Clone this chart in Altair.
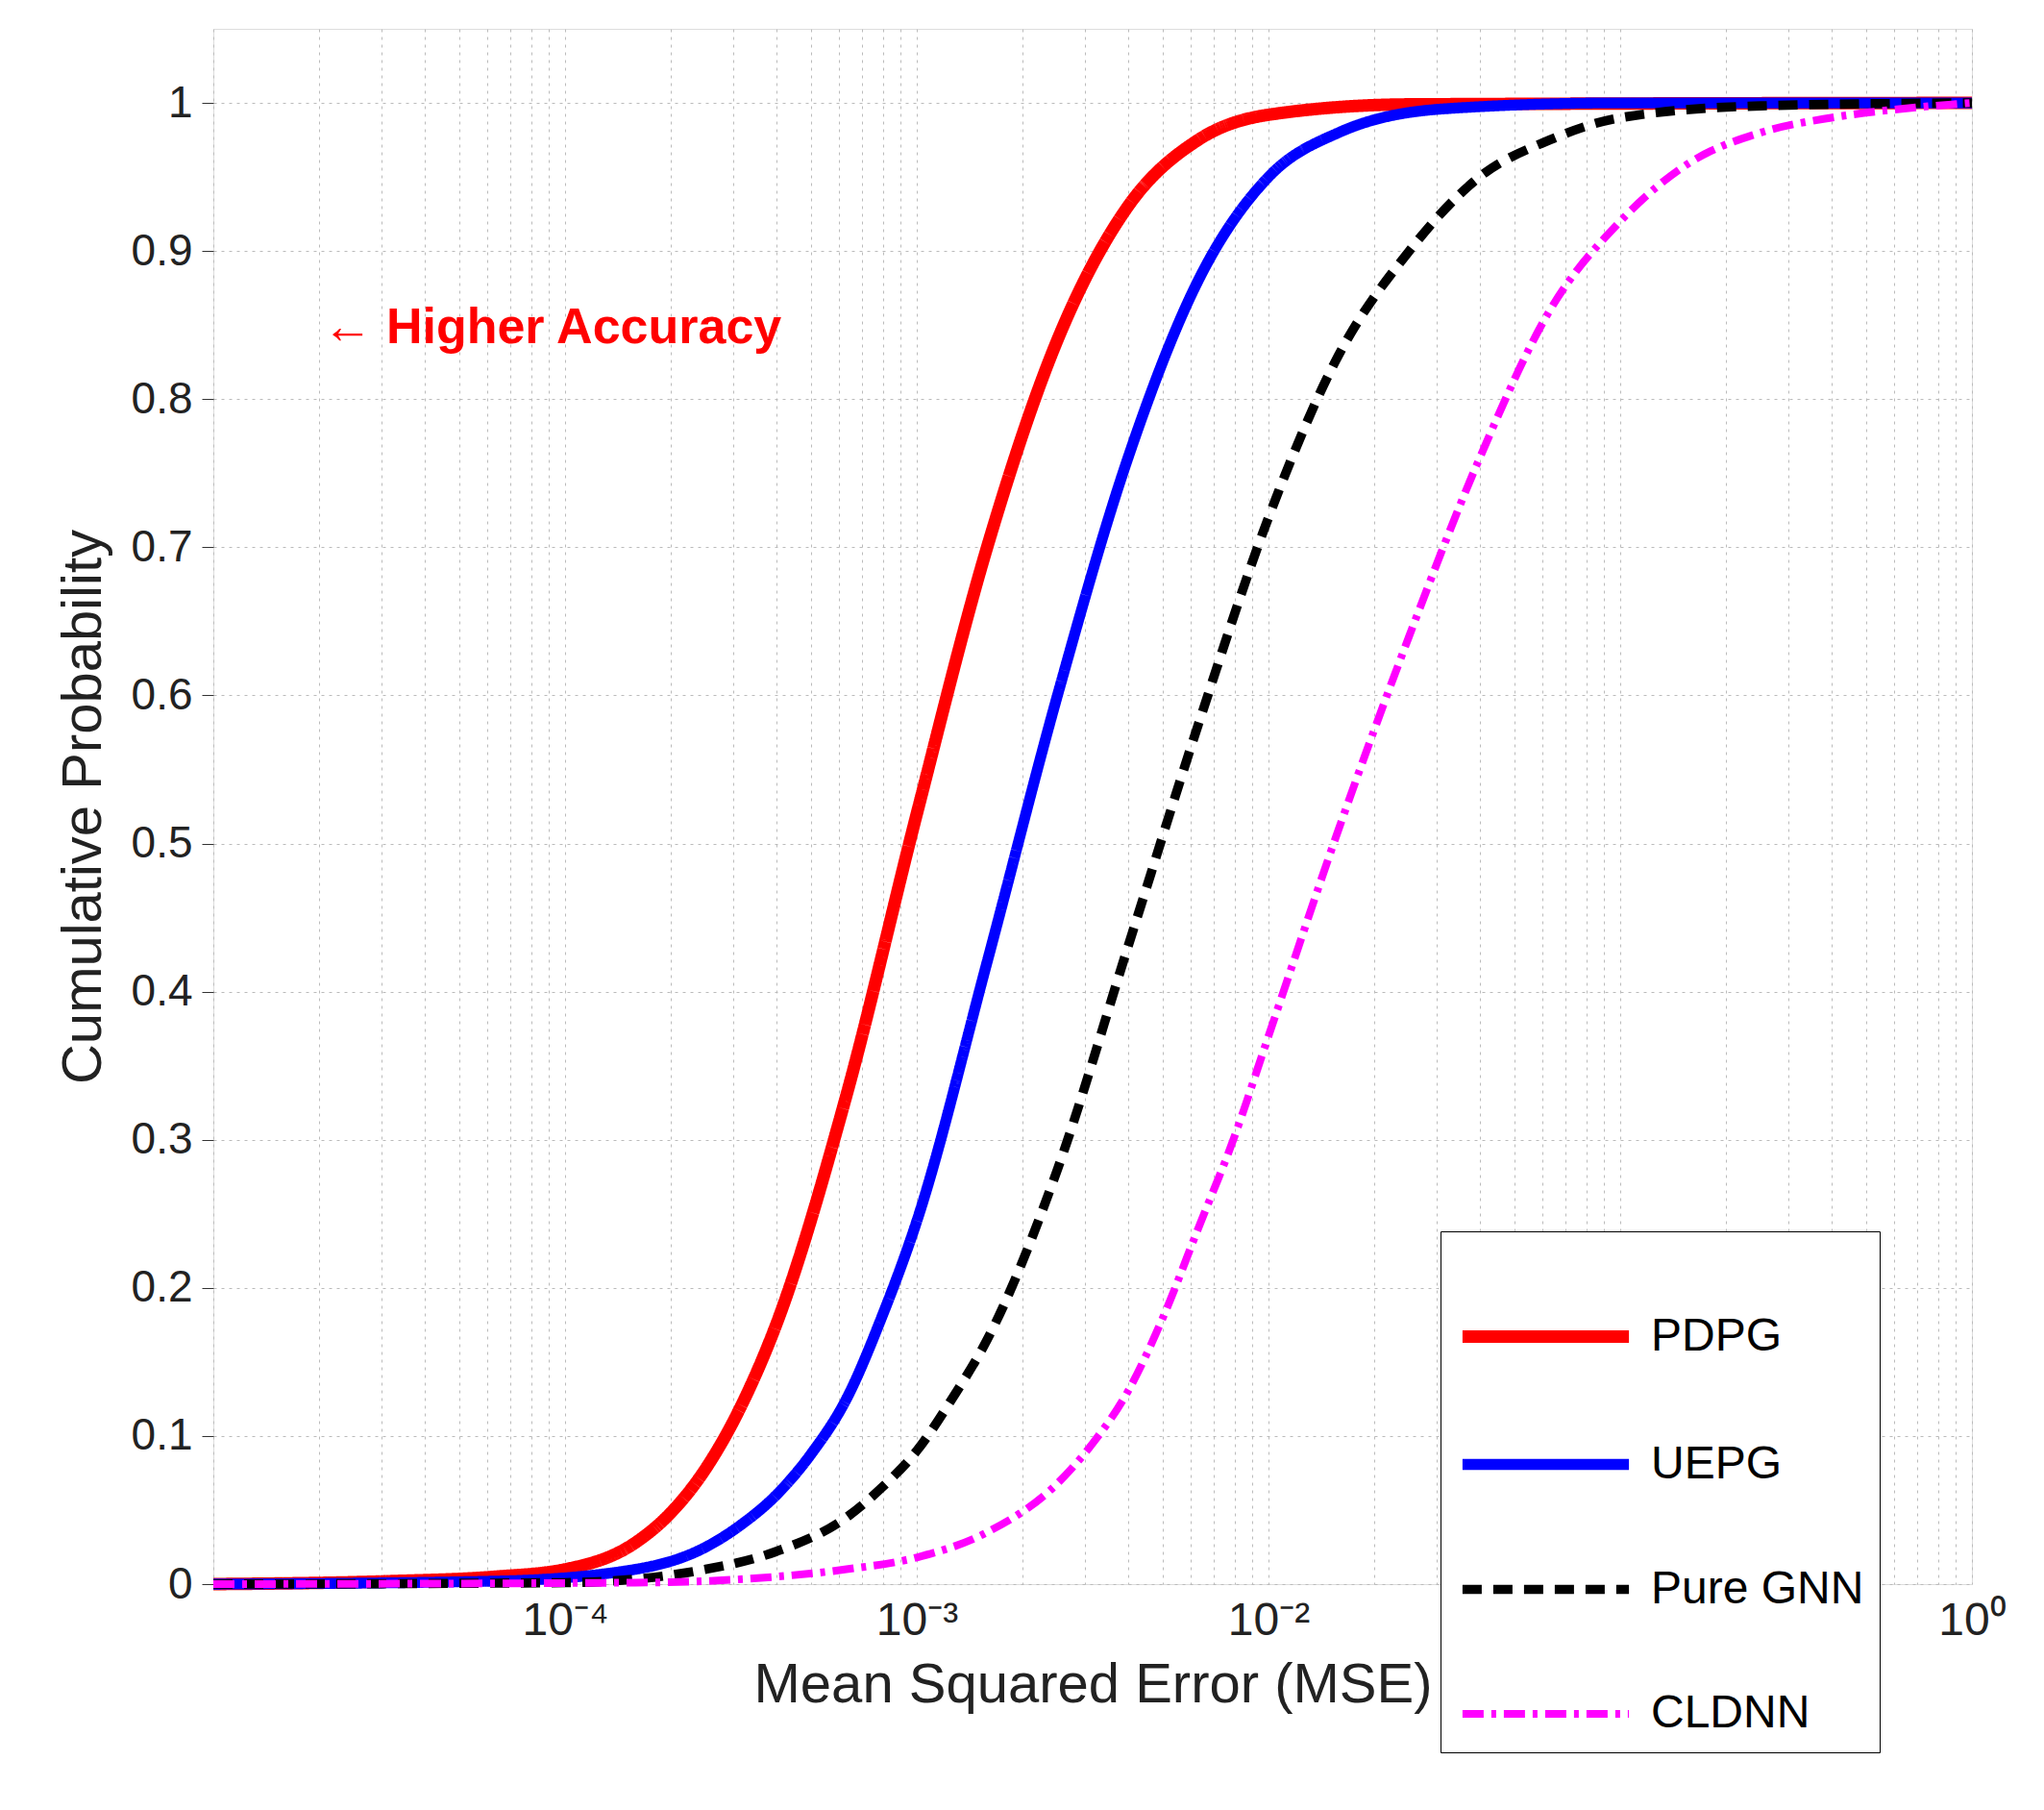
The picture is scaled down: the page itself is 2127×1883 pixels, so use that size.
import altair as alt
import pandas as pd

series = ["PDPG", "UEPG", "Pure GNN", "CLDNN"]
colors = ["#ff0000", "#0000ff", "#000000", "#ff00ff"]

pdpg_logx = [-5, -4.5, -4.2, -4, -3.8, -3.7, -3.6, -3.5, -3.4, -3.2, -3.0, -2.8, -2.6, -2.4, -2.2, -2.0, -1.6, 0]
pdpg_cdf = [0, 0.002, 0.005, 0.01, 0.028, 0.048, 0.078, 0.12, 0.175, 0.33, 0.52, 0.70, 0.84, 0.93, 0.975, 0.992, 0.999, 1]
uepg_logx = [-5, -4.2, -3.8, -3.6, -3.5, -3.4, -3.3, -3.2, -3.1, -3.0, -2.8, -2.6, -2.4, -2.2, -2.0, -1.8, -1.5, -1, 0]
uepg_cdf = [0, 0.002, 0.01, 0.025, 0.04, 0.06, 0.088, 0.125, 0.18, 0.245, 0.42, 0.60, 0.76, 0.88, 0.95, 0.98, 0.996, 1, 1]
gnn_logx = [-5, -4, -3.6, -3.4, -3.2, -3.1, -3.0, -2.9, -2.8, -2.6, -2.4, -2.2, -2.0, -1.8, -1.6, -1.4, -1.2, -1, -0.6, 0]
gnn_cdf = [0, 0.001, 0.01, 0.022, 0.045, 0.065, 0.09, 0.125, 0.165, 0.28, 0.43, 0.58, 0.72, 0.83, 0.90, 0.95, 0.975, 0.99, 0.998, 1]
cldnn_logx = [-5, -3.8, -3.4, -3.2, -3.0, -2.8, -2.6, -2.5, -2.4, -2.3, -2.2, -2.1, -2.0, -1.8, -1.6, -1.4, -1.2, -1.0, -0.8, -0.6, -0.4, -0.2, 0]
cldnn_cdf = [0, 0.001, 0.005, 0.01, 0.018, 0.035, 0.068, 0.095, 0.13, 0.18, 0.24, 0.30, 0.37, 0.51, 0.64, 0.76, 0.86, 0.92, 0.96, 0.98, 0.99, 0.996, 1]

rows = []
for name, lx, cy in [("PDPG", pdpg_logx, pdpg_cdf), ("UEPG", uepg_logx, uepg_cdf),
                     ("Pure GNN", gnn_logx, gnn_cdf), ("CLDNN", cldnn_logx, cldnn_cdf)]:
    for a, b in zip(lx, cy):
        rows.append({"series": name, "mse": 10 ** a, "cdf": b})
df = pd.DataFrame(rows)

grid_vals = [m * 10 ** e for e in range(-5, 0) for m in range(1, 10)] + [1]

x_scale = alt.Scale(type="log", domain=[1e-5, 1], nice=False)
y_scale = alt.Scale(domain=[0, 1.05], nice=False)

lines = alt.Chart(df).mark_line(interpolate="monotone").encode(
    x=alt.X("mse:Q", scale=x_scale, title="Mean Squared Error (MSE)",
            axis=alt.Axis(values=grid_vals, gridDash=[3, 5], gridColor="#bbbbbb", ticks=False,
                          labelExpr="datum.value==1e-4?'10⁻⁴':datum.value==1e-3?'10⁻³':datum.value==1e-2?'10⁻²':datum.value==1e-1?'10⁻¹':datum.value==1?'10⁰':''",
                          labelFontSize=48, titleFontSize=58, titleFontWeight="normal",
                          labelFlush=False, labelPadding=14, titlePadding=14, domain=False)),
    y=alt.Y("cdf:Q", scale=y_scale, title="Cumulative Probability",
            axis=alt.Axis(values=[i / 10 for i in range(11)], gridDash=[3, 5], gridColor="#bbbbbb",
                          labelExpr="datum.value==0?'0':datum.value==1?'1':format(datum.value,'.1f')",
                          labelFontSize=46, titleFontSize=58, titleFontWeight="normal",
                          tickSize=12, tickColor="#333", labelPadding=10, titlePadding=20, domain=False)),
    color=alt.Color("series:N", scale=alt.Scale(domain=series, range=colors),
                    legend=alt.Legend(title=None, orient="none", legendX=1277, legendY=1251,
                                      labelFontSize=48, symbolSize=30000, symbolType="stroke",
                                      symbolStrokeWidth=9, strokeColor="black", fillColor="white",
                                      padding=16, rowPadding=14, labelLimit=400, labelOffset=16)),
    strokeDash=alt.StrokeDash("series:N", scale=alt.Scale(domain=series,
                              range=[[1, 0], [1, 0], [20, 12], [22, 8, 5, 8]]), legend=None),
    strokeWidth=alt.StrokeWidth("series:N", scale=alt.Scale(domain=series, range=[13, 8, 7, 7]), legend=None),
)

ann = pd.DataFrame({"mse": [10 ** -4.69], "cdf": [0.848], "t": ["← Higher Accuracy"]})
text = alt.Chart(ann).mark_text(align="left", baseline="middle", color="#ff0000",
                                fontWeight="bold", fontSize=52).encode(
    x=alt.X("mse:Q", scale=x_scale), y=alt.Y("cdf:Q", scale=y_scale), text="t:N")

chart = (lines + text).properties(width=1830, height=1618).configure_view(
    stroke="#222", strokeWidth=2).configure(
    font="Liberation Sans", padding={"left": 50, "top": 22, "right": 10, "bottom": 10}).configure_axis(
    labelColor="#222", titleColor="#222")
chart.save("out.html", embed_options={"renderer": "svg", "actions": False})
